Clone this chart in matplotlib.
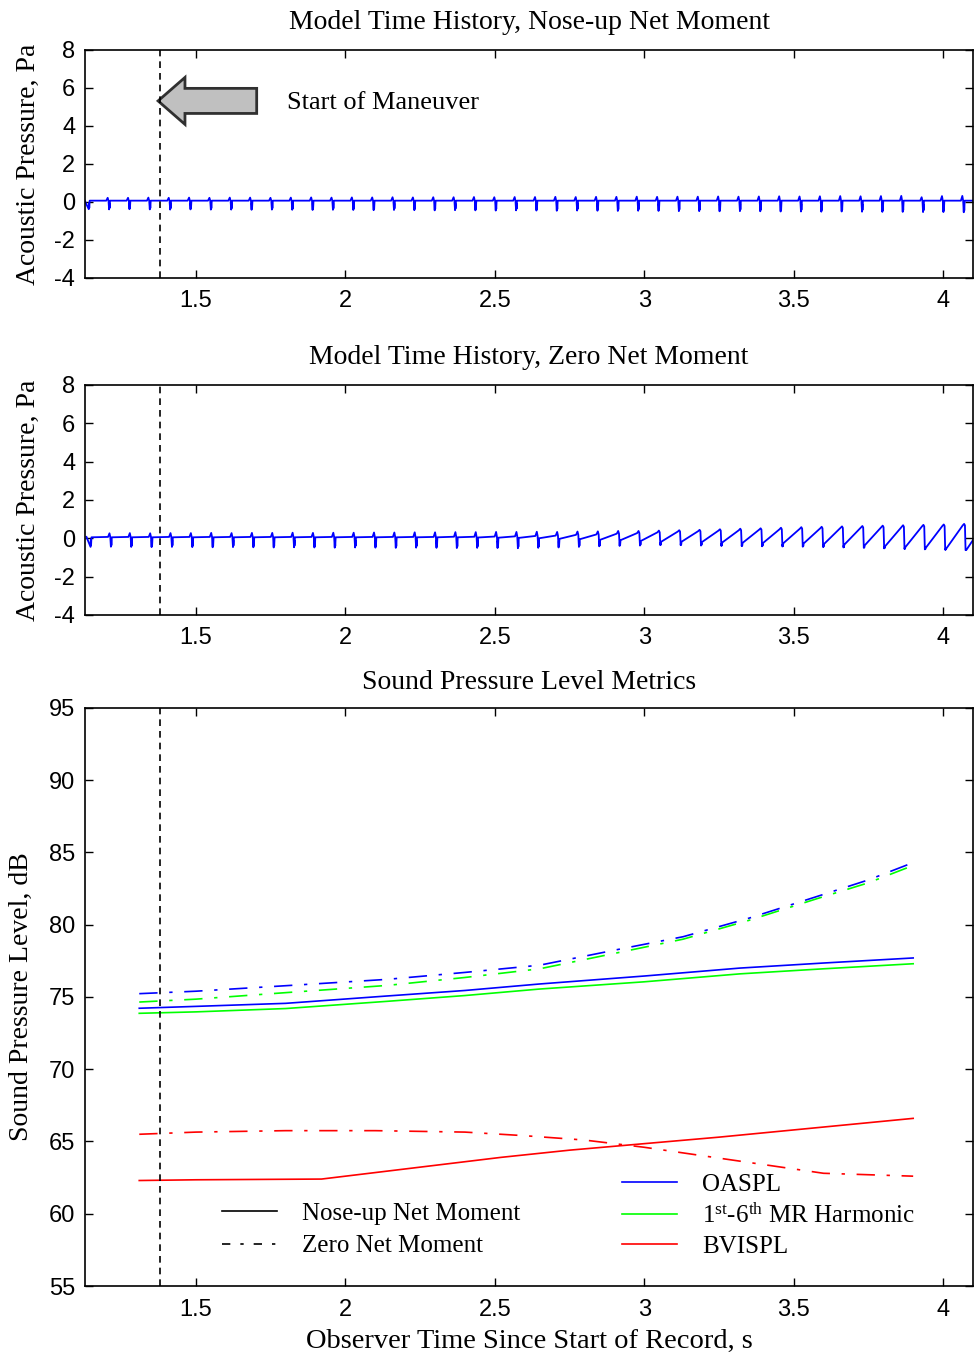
import numpy as np
import matplotlib
matplotlib.use('Agg')
import matplotlib.pyplot as plt
from matplotlib.patches import FancyArrow
from matplotlib.lines import Line2D

plt.rcParams['font.family'] = ['Liberation Sans', 'DejaVu Sans']
plt.rcParams['axes.unicode_minus'] = False
plt.rcParams['mathtext.fontset'] = 'custom'
plt.rcParams['mathtext.rm'] = 'Liberation Serif'
plt.rcParams['mathtext.it'] = 'Liberation Serif:italic'

serif = 'Liberation Serif'

# ---- time histories (one blade pulse per period) ----
first_pulse_top = 1.141
first_pulse_mid = 1.147
pulse_period = 0.0681
maneuver_start = 1.38

# nose-up: trough of each pulse, bump peak before the drop (flat level between)
top_level = 0.07
top_trough = [-0.38, -0.39, -0.38, -0.39, -0.40, -0.39, -0.40, -0.40, -0.41, -0.40,
              -0.41, -0.42, -0.41, -0.42, -0.43, -0.42, -0.43, -0.44, -0.43, -0.44,
              -0.45, -0.44, -0.45, -0.46, -0.45, -0.46, -0.47, -0.46, -0.47, -0.48,
              -0.48, -0.49, -0.48, -0.49, -0.50, -0.50, -0.51, -0.50, -0.51, -0.52,
              -0.52, -0.53, -0.53, -0.54]
top_peak = [0.22, 0.22, 0.23, 0.22, 0.23, 0.22, 0.23, 0.23, 0.22, 0.23,
            0.24, 0.23, 0.24, 0.24, 0.25, 0.24, 0.25, 0.25, 0.26, 0.25,
            0.26, 0.26, 0.27, 0.26, 0.27, 0.27, 0.28, 0.27, 0.28, 0.28,
            0.29, 0.28, 0.29, 0.30, 0.29, 0.30, 0.31, 0.30, 0.31, 0.32,
            0.25, 0.31, 0.32, 0.33]

# zero net moment: trough, level after the drop, level before the bump, bump peak
mid_trough = [-0.45, -0.44, -0.45, -0.46, -0.45, -0.46, -0.47, -0.46, -0.47, -0.48,
              -0.47, -0.48, -0.49, -0.48, -0.49, -0.50, -0.49, -0.50, -0.51, -0.50,
              -0.51, -0.52, -0.50, -0.48, -0.45, -0.42, -0.40, -0.38, -0.36, -0.36,
              -0.38, -0.40, -0.41, -0.42, -0.43, -0.44, -0.46, -0.48, -0.50, -0.53,
              -0.56, -0.58, -0.60, -0.62]
mid_lo = [0.05, 0.05, 0.05, 0.05, 0.05, 0.05, 0.05, 0.05, 0.05, 0.05,
          0.05, 0.05, 0.05, 0.05, 0.05, 0.05, 0.05, 0.05, 0.05, 0.04,
          0.03, 0.02, 0.00, -0.03, -0.05, -0.08, -0.10, -0.14, -0.18, -0.18,
          -0.20, -0.22, -0.24, -0.25, -0.26, -0.27, -0.30, -0.33, -0.37, -0.42,
          -0.46, -0.50, -0.55, -0.60]
mid_hi = [0.07, 0.07, 0.07, 0.07, 0.07, 0.07, 0.07, 0.07, 0.07, 0.07,
          0.07, 0.07, 0.07, 0.07, 0.07, 0.07, 0.07, 0.08, 0.08, 0.09,
          0.10, 0.12, 0.14, 0.18, 0.20, 0.24, 0.27, 0.31, 0.35, 0.37,
          0.40, 0.42, 0.45, 0.47, 0.50, 0.52, 0.54, 0.56, 0.58, 0.60,
          0.62, 0.64, 0.67, 0.69]
mid_peak = [0.26, 0.27, 0.26, 0.27, 0.27, 0.28, 0.27, 0.28, 0.28, 0.29,
            0.28, 0.29, 0.29, 0.30, 0.30, 0.31, 0.31, 0.32, 0.32, 0.33,
            0.33, 0.34, 0.33, 0.35, 0.36, 0.38, 0.38, 0.40, 0.42, 0.44,
            0.47, 0.50, 0.52, 0.55, 0.58, 0.60, 0.62, 0.64, 0.66, 0.68,
            0.70, 0.72, 0.75, 0.78]

# ---- sound pressure level metrics ----
t_nose = [1.31, 1.5, 1.8, 2.14, 2.4, 2.65, 3.0, 3.32, 3.6, 3.9]
oaspl_nose = [74.22, 74.35, 74.56, 75.07, 75.45, 75.9, 76.45, 77.0, 77.35, 77.7]
harm_nose = [73.87, 73.97, 74.2, 74.7, 75.1, 75.55, 76.05, 76.6, 76.95, 77.3]

t_zero = [1.31, 1.5, 1.8, 2.14, 2.4, 2.65, 2.92, 3.13, 3.35, 3.57, 3.75, 3.9]
oaspl_zero = [75.23, 75.4, 75.78, 76.22, 76.7, 77.2, 78.32, 79.17, 80.45, 81.9, 83.1, 84.3]
harm_zero = [74.65, 74.85, 75.3, 75.8, 76.35, 76.95, 78.1, 79.0, 80.3, 81.75, 82.9, 84.1]

t_bvi_nose = [1.31, 1.5, 1.92, 2.1, 2.3, 2.52, 2.75, 3.0, 3.25, 3.5, 3.7, 3.9]
bvi_nose = [62.3, 62.35, 62.4, 62.85, 63.35, 63.9, 64.4, 64.85, 65.3, 65.8, 66.2, 66.6]
t_bvi_zero = [1.31, 1.5, 1.8, 2.1, 2.4, 2.6, 2.8, 3.0, 3.2, 3.4, 3.6, 3.9]
bvi_zero = [65.5, 65.65, 65.75, 65.75, 65.65, 65.4, 65.1, 64.6, 64.0, 63.4, 62.8, 62.6]

xticks = [1.5, 2, 2.5, 3, 3.5, 4]
xlim = (1.1285, 4.1004)


def pulse_train(t0, trough, lo, hi, peak):
    # shape of one period: sharp drop, quick ring, level, bump, drop again
    phase = np.array([0, 0.012, 0.025, 0.045, 0.86, 0.93, 0.97])
    t = [t0 - 0.2 * pulse_period]
    p = [hi[0]]
    for i in range(len(trough)):
        tr, l, h, pk = trough[i], lo[i], hi[i], peak[i]
        vals = [tr, l + (tr - l) * 0.3, l + (tr - l) * 0.85, l, h, pk, h]
        t.extend(t0 + (i + phase) * pulse_period)
        p.extend(vals)
    return np.array(t), np.array(p)


def style_axes(ax):
    ax.tick_params(direction='in', top=True, right=True, length=6, width=1,
                   labelsize=17, pad=7)
    ax.tick_params(axis='x', pad=9)
    for s in ax.spines.values():
        s.set_linewidth(1.2)
    ax.set_xlim(*xlim)
    ax.set_xticks(xticks)
    ax.set_xticklabels(['1.5', '2', '2.5', '3', '3.5', '4'])


fig = plt.figure(figsize=(9.75, 13.62), dpi=100)
ax1 = fig.add_axes([0.0872, 0.7959, 0.9108, 0.1674])
ax2 = fig.add_axes([0.0872, 0.5485, 0.9108, 0.1689])
ax3 = fig.add_axes([0.0872, 0.0558, 0.9108, 0.4244])

n = len(top_trough)
t1, p1 = pulse_train(first_pulse_top, top_trough, [top_level] * n, [top_level] * n, top_peak)
ax1.plot(t1, p1, color='#0000ff', lw=1.3)
t2, p2 = pulse_train(first_pulse_mid, mid_trough, mid_lo, mid_hi, mid_peak)
ax2.plot(t2, p2, color='#0000ff', lw=1.3)

for ax, title in [(ax1, 'Model Time History, Nose-up Net Moment'),
                  (ax2, 'Model Time History, Zero Net Moment')]:
    style_axes(ax)
    ax.set_ylim(-4, 8)
    ax.set_yticks([-4, -2, 0, 2, 4, 6, 8])
    ax.axvline(maneuver_start, color='k', lw=1.2, ls=(0, (4, 3)))
    ax.set_title(title, fontfamily=serif, fontsize=20, pad=15)
    ax.set_ylabel('Acoustic Pressure, Pa', fontfamily=serif, fontsize=20)
    ax.yaxis.set_label_coords(-0.05, 0.5)

ax1.add_patch(FancyArrow(1.703, 5.32, -0.33, 0, width=1.32, head_width=2.47,
                         head_length=0.09, length_includes_head=True,
                         fc='#c0c0c0', ec='#303030', lw=2))
ax1.text(1.803, 5.2, 'Start of Maneuver', fontfamily=serif, fontsize=19,
         va='center', ha='left')

dashdot = (0, (11, 7, 2, 7))
ax3.plot(t_nose, oaspl_nose, color='#0000ff', lw=1.2)
ax3.plot(t_nose, harm_nose, color='#00ff00', lw=1.2)
ax3.plot(t_bvi_nose, bvi_nose, color='#ff0000', lw=1.2)
ax3.plot(t_zero, oaspl_zero, color='#0000ff', lw=1.2, ls=dashdot)
ax3.plot(t_zero, harm_zero, color='#00ff00', lw=1.2, ls=dashdot)
ax3.plot(t_bvi_zero, bvi_zero, color='#ff0000', lw=1.2, ls=dashdot)
ax3.axvline(maneuver_start, color='k', lw=1.2, ls=(0, (4, 3)))

style_axes(ax3)
ax3.set_ylim(55, 95)
ax3.set_yticks(range(55, 96, 5))
ax3.set_title('Sound Pressure Level Metrics', fontfamily=serif, fontsize=20, pad=14)
ax3.set_ylabel('Sound Pressure Level, dB', fontfamily=serif, fontsize=20)
ax3.yaxis.set_label_coords(-0.057, 0.5)
ax3.set_xlabel('Observer Time Since Start of Record, s', fontfamily=serif, fontsize=20.5)
ax3.xaxis.set_label_coords(0.5, -0.074)

leg_prop = {'family': serif, 'size': 18}
h_left = [Line2D([], [], color='k', lw=1.2),
          Line2D([], [], color='k', lw=1.2, ls=(0, (5, 6, 2, 6)))]
leg1 = ax3.legend(h_left, ['Nose-up Net Moment', 'Zero Net Moment'],
                  loc='center left', bbox_to_anchor=(0.154, 0.097), frameon=False,
                  prop=leg_prop, handlelength=2.2, handletextpad=1.0,
                  borderpad=0, borderaxespad=0, labelspacing=0.4)
ax3.add_artist(leg1)
h_right = [Line2D([], [], color='#0000ff', lw=1.2),
           Line2D([], [], color='#00ff00', lw=1.2),
           Line2D([], [], color='#ff0000', lw=1.2)]
ax3.legend(h_right, ['OASPL', r'1$^{\mathrm{st}}$-6$^{\mathrm{th}}$ MR Harmonic', 'BVISPL'],
           loc='center left', bbox_to_anchor=(0.605, 0.122), frameon=False,
           prop=leg_prop, handlelength=2.2, handletextpad=1.0,
           borderpad=0, borderaxespad=0, labelspacing=0.3)

fig.savefig('out.png', dpi=100)
